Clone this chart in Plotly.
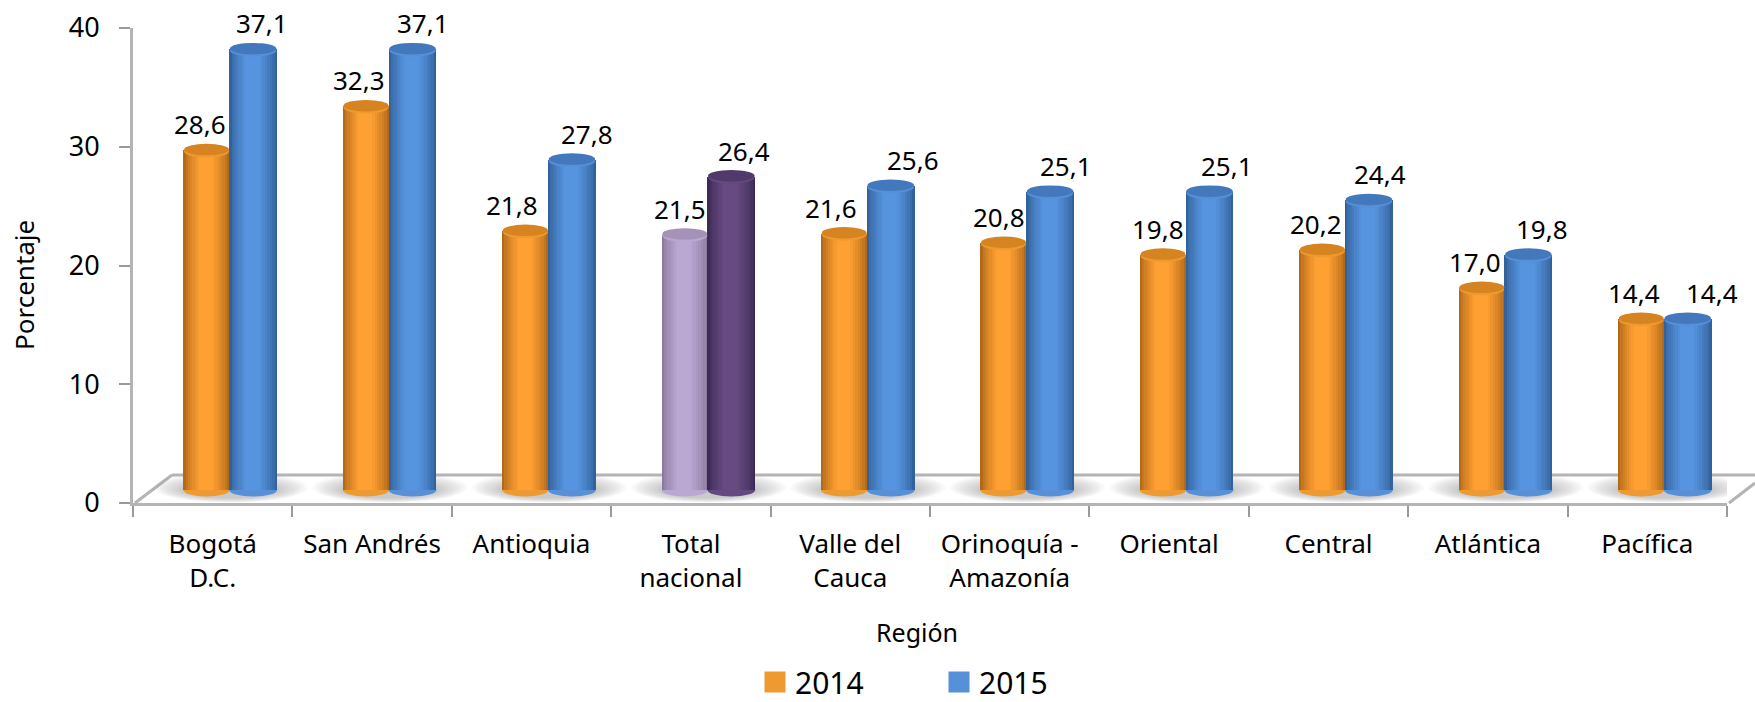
import plotly.graph_objects as go

regions = ["Bogotá<br>D.C.", "San Andrés", "Antioquia", "Total<br>nacional", "Valle del<br>Cauca",
           "Orinoquía -<br>Amazonía", "Oriental", "Central", "Atlántica", "Pacífica"]
values_2014 = [28.6, 32.3, 21.8, 21.5, 21.6, 20.8, 19.8, 20.2, 17.0, 14.4]
values_2015 = [37.1, 37.1, 27.8, 26.4, 25.6, 25.1, 25.1, 24.4, 19.8, 14.4]
labels_2014 = ["28,6", "32,3", "21,8", "21,5", "21,6", "20,8", "19,8", "20,2", "17,0", "14,4"]
labels_2015 = ["37,1", "37,1", "27,8", "26,4", "25,6", "25,1", "25,1", "24,4", "19,8", "14,4"]
y_ticks = [0, 10, 20, 30, 40]
highlight_index = 3

# label nudges in pixels (the source places them by hand)
dx_2014 = [-7, -7, -13, -5, -13, -5, -5, -6, -7, -7]
dx_2015 = [9, 10, 15, 13, 22, 16, 17, 11, 14, 24]

W, H = 1755, 702
L, R, T, B = 133, 28, 28, 199
plot_w, plot_h = W - L - R, H - T - B
px_per_unit = plot_h / 40
px_per_cat = plot_w / 10
depth_x = 17 / px_per_cat      # 3D shift of the cylinders, in categories
depth_y = 13 / px_per_unit     # 3D shift of the cylinders, in data units
FONT = "Noto Sans"


def mix(a, b, t):
    ca = [int(a[i:i + 2], 16) for i in (1, 3, 5)]
    cb = [int(b[i:i + 2], 16) for i in (1, 3, 5)]
    return "#" + "".join(f"{round(x + (y - x) * t):02x}" for x, y in zip(ca, cb))


def px(x):
    return (x - L) / plot_w


def py(y):
    return 1 - (y - T) / plot_h


idx = list(range(len(regions)))
ORANGE = ("#B26A18", "#FFA033", "#D5841F", "#EE9A30")
BLUE = ("#33629A", "#5694DF", "#4379BC", "#5590D8")
LILAC = ("#8C7A9E", "#BBA8D2", "#A592BA", "#BBA8D2")
PURPLE = ("#3C2C55", "#674A82", "#4F3A6B", "#644880")
series = [
    ("2014", values_2014, labels_2014, dx_2014, -0.29, 0.29, ORANGE, LILAC),
    ("2015", values_2015, labels_2015, dx_2015, -0.003, 0.3, BLUE, PURPLE),
]

fig = go.Figure()
shapes = []
annotations = []

# floor of the 3D box
grey = "#B4B4B4"
for x0, y0, x1, y1 in [(172, 475, W, 475), (135, 503, 172, 475), (1729, 503, W, 483)]:
    shapes.append(dict(type="line", xref="paper", yref="paper", x0=px(x0), y0=py(y0), x1=px(x1), y1=py(y1),
                       line=dict(color=grey, width=3), layer="below"))

# invisible trace that gives the primary category axis its labels
fig.add_trace(go.Scatter(x=regions, y=[0] * len(regions), mode="markers", marker=dict(opacity=0),
                         showlegend=False, hoverinfo="skip"))

# soft base shadows
for i in idx:
    for s in range(10):
        grow = 0.18 * (1 - s / 9)
        shapes.append(dict(type="circle", xref="x2", yref="y2", layer="below",
                           x0=i - 0.30 - grow, x1=i + 0.31 + grow,
                           y0=-0.7 - grow * 2, y1=0.75 + grow * 4,
                           fillcolor="rgba(120,120,120,0.045)", line=dict(width=0)))

# cylinder bodies: nested strips from edge to highlight colour
layers = [1.0, 0.9, 0.8, 0.7, 0.6, 0.5, 0.4, 0.3]
for name, vals, labs, dxs, off, wid, pal, alt in series:
    for k, frac in enumerate(layers):
        t = (k / (len(layers) - 1)) ** 0.75
        colours = [mix(alt[0], alt[1], t) if i == highlight_index else mix(pal[0], pal[1], t) for i in idx]
        w = wid * frac
        fig.add_trace(go.Bar(x=idx, y=vals, xaxis="x2", yaxis="y2",
                             width=[w] * len(idx), offset=[off + (wid - w) * 0.48] * len(idx),
                             marker=dict(color=colours, line=dict(width=0)),
                             showlegend=False, name=name, hoverinfo="skip" if k else "y"))
    for i in idx:
        p = alt if i == highlight_index else pal
        x0, x1 = i + off, i + off + wid
        # bottom rounding
        shapes.append(dict(type="circle", xref="x2", yref="y2", layer="below", x0=x0, x1=x1, y0=-0.55, y1=0.55,
                           fillcolor=p[3], line=dict(width=0)))
        # top cap: lit rim, then the darker face
        shapes.append(dict(type="circle", xref="x2", yref="y2", layer="above", x0=x0 + 0.004, x1=x1 - 0.004,
                           y0=vals[i] - 0.6, y1=vals[i] + 0.45, fillcolor=p[3], line=dict(width=0)))
        shapes.append(dict(type="circle", xref="x2", yref="y2", layer="above", x0=x0 + 0.004, x1=x1 - 0.004,
                           y0=vals[i] - 0.42, y1=vals[i] + 0.55, fillcolor=p[2], line=dict(width=0)))
        annotations.append(dict(x=i + off + wid / 2, y=vals[i], xref="x2", yref="y2", text=labs[i], showarrow=False,
                                xshift=dxs[i], yshift=26, xanchor="center", yanchor="middle",
                                font=dict(family=FONT, size=26, color="black")))

# legend entries
for name, pal in [("2014", ORANGE), ("2015", BLUE)]:
    fig.add_trace(go.Scatter(x=[None], y=[None], mode="markers", name=name,
                             marker=dict(symbol="square", size=16, color=pal[3],
                                         line=dict(color=pal[3], width=5))))

annotations.append(dict(x=px(917), y=py(632), xref="paper", yref="paper", text="Región", showarrow=False,
                        xanchor="center", yanchor="middle", font=dict(family=FONT, size=25, color="black")))
annotations.append(dict(x=px(24), y=py(285), xref="paper", yref="paper", text="Porcentaje", showarrow=False,
                        xanchor="center", yanchor="middle", textangle=-90,
                        font=dict(family=FONT, size=26, color="black")))

fig.update_layout(
    width=W, height=H,
    margin=dict(l=L, r=R, t=T, b=B, autoexpand=False),
    paper_bgcolor="white", plot_bgcolor="rgba(0,0,0,0)",
    barmode="overlay", bargap=0, shapes=shapes, annotations=annotations,
    font=dict(family=FONT, color="black"),
    xaxis=dict(type="category", categoryorder="array", categoryarray=regions, range=[-0.5, 9.5], tickson="boundaries",
               showgrid=False, zeroline=False, showline=True, linecolor=grey, linewidth=3,
               ticks="outside", ticklen=11, tickwidth=2, tickcolor="#9A9A9A", ticklabelstandoff=16,
               tickfont=dict(family=FONT, size=26, color="black")),
    yaxis=dict(range=[0, 40], tickvals=y_ticks, showgrid=False, zeroline=False, showline=True, linecolor=grey,
               linewidth=3, ticks="outside", ticklen=11, tickwidth=2, tickcolor="#9A9A9A", ticklabelstandoff=14,
               tickfont=dict(family=FONT, size=27, color="black")),
    xaxis2=dict(overlaying="x", visible=False, range=[-0.5 - depth_x, 9.5 - depth_x]),
    yaxis2=dict(overlaying="y", visible=False, range=[-depth_y, 40 - depth_y]),
    legend=dict(orientation="h", x=px(755), xanchor="left", y=py(682), yanchor="middle", entrywidth=139,
                entrywidthmode="pixels", font=dict(family=FONT, size=30, color="black"), bgcolor="rgba(0,0,0,0)"),
    showlegend=True,
)

fig.write_html("out.html", config=dict(displayModeBar=False), post_script="document.body.style.margin='0';")
